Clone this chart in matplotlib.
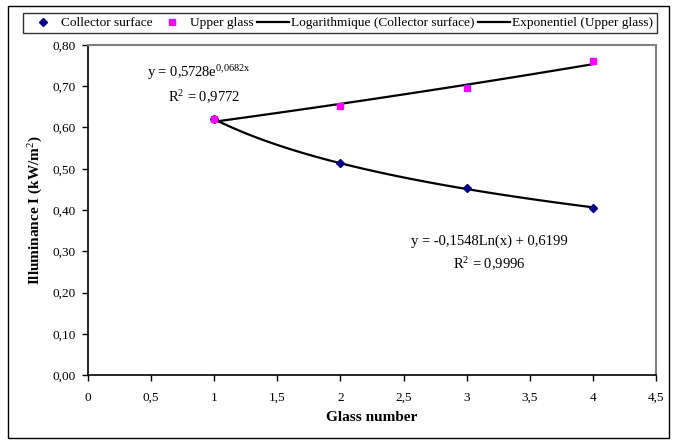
import numpy as np
import matplotlib
matplotlib.use("Agg")
import matplotlib.pyplot as plt
from matplotlib.patches import Rectangle
from matplotlib.ticker import FuncFormatter

plt.rcParams['font.family'] = ['Liberation Serif', 'DejaVu Serif']
plt.rcParams['mathtext.fontset'] = 'custom'
plt.rcParams['mathtext.rm'] = 'Liberation Serif'
plt.rcParams['mathtext.it'] = 'Liberation Serif'
plt.rcParams['mathtext.bf'] = 'Liberation Serif:bold'

# data
glass = [1, 2, 3, 4]
collector = [0.620, 0.513, 0.453, 0.405]
upper = [0.620, 0.652, 0.695, 0.762]

# trend lines (same fits as the spreadsheet)
a_log, b_log = np.polyfit(np.log(glass), collector, 1)
k_exp, lnA = np.polyfit(glass, np.log(upper), 1)
xx = np.linspace(1, 4, 100)

fig = plt.figure(figsize=(6.75, 4.41), dpi=100)
ax = fig.add_axes([88/675, 1-375/441, (656-88)/675, (375-45)/441])

# outer chart frame
fig.patches.append(Rectangle((8/675, 3/441), 661/675, 432/441, transform=fig.transFigure,
                             fill=False, edgecolor='black', linewidth=1.0))

p1, = ax.plot(glass, collector, linestyle='none', marker='D', color='#000080', markersize=3.8,
              label='Collector surface', zorder=3)
p2, = ax.plot(glass, upper, linestyle='none', marker='s', color='#FF00FF', markersize=5,
              label='Upper glass', zorder=3)
l1, = ax.plot(xx, a_log*np.log(xx) + b_log, color='black', linewidth=1.6,
              label='Logarithmique (Collector surface)')
l2, = ax.plot(xx, np.exp(lnA)*np.exp(k_exp*xx), color='black', linewidth=1.6,
              label='Exponentiel (Upper glass)')

ax.set_xlim(0, 4.5)
ax.set_ylim(0, 0.8)
ax.set_xticks(np.arange(0, 4.51, 0.5))
ax.set_yticks(np.arange(0, 0.81, 0.1))
ax.xaxis.set_major_formatter(FuncFormatter(lambda v, p: ('%g' % v).replace('.', ',')))
ax.yaxis.set_major_formatter(FuncFormatter(lambda v, p: ('%.2f' % v).replace('.', ',')))
ax.tick_params(labelsize=9.5, length=4, width=1, direction='out', pad=5)
ax.tick_params(axis='x', pad=8)
for s in ['top', 'right']:
    ax.spines[s].set_color('#808080')
    ax.spines[s].set_linewidth(1.5)
for s in ['left', 'bottom']:
    ax.spines[s].set_color('black')
    ax.spines[s].set_linewidth(1.2)

ax.set_xlabel('Glass number', fontsize=11, fontweight='bold', labelpad=5)
ax.set_ylabel('Illuminance I (kW/m$^{2}$)', fontsize=11, fontweight='bold', labelpad=5)

ax.text(0.47, 0.732, 'y = 0,5728e$^{0{,}0682x}$', fontsize=10.5, ha='left', va='center')
ax.text(0.92, 0.674, 'R$^{2}$ = 0,9772', fontsize=10.5, ha='center', va='center')
ax.text(3.18, 0.325, 'y = -0,1548Ln(x) + 0,6199', fontsize=10.5, ha='center', va='center')
ax.text(3.18, 0.268, 'R$^{2}$ = 0,9996', fontsize=10.5, ha='center', va='center')

leg = fig.legend(handles=[p1, p2, l1, l2], loc='center', bbox_to_anchor=(340/675, 1-23/441),
                 ncol=4, fontsize=9.6, frameon=True, fancybox=False, edgecolor='black',
                 handlelength=2.4, handletextpad=0.1, columnspacing=0.3, borderpad=0.3,
                 borderaxespad=0)
leg.get_frame().set_linewidth(1.0)

fig.savefig('out.png', dpi=100)
